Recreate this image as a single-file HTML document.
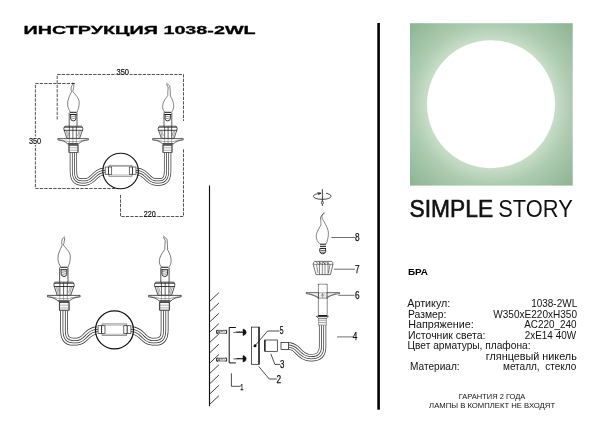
<!DOCTYPE html>
<html><head><meta charset="utf-8">
<style>
html,body{margin:0;padding:0;background:#fff;width:600px;height:433px;overflow:hidden}
svg{position:absolute;left:0;top:0;will-change:transform}
text{font-family:"Liberation Sans",sans-serif}
</style></head><body>
<svg width="600" height="433" viewBox="0 0 600 433">
<defs>
<radialGradient id="g" cx="491" cy="104.2" r="115" gradientUnits="userSpaceOnUse">
<stop offset="0.55" stop-color="#c9dec9"/>
<stop offset="0.70" stop-color="#adcbb0"/>
<stop offset="0.85" stop-color="#9cbfa1"/>
<stop offset="1" stop-color="#8db493"/>
</radialGradient>
<!-- left half of sconce, in top-drawing coords -->
<g id="half" fill="none" stroke="#1a1a1a" stroke-width="0.7">
  <!-- arm: 4 parallel lines -->
  <g id="arm">
  <path d="M73.4,152.5 V171 C73.4,179 76,182 82,182 L85,182 C90,182 92,179 95,176 C98,173 100,171.5 104,171.5" stroke="#333" stroke-width="7.3"/>
  <path d="M73.4,152 V171 C73.4,179 76,182 82,182 L85,182 C90,182 92,179 95,176 C98,173 100,171.5 105,171.5" stroke="#fff" stroke-width="5.9"/>
  <path d="M73.4,152 V171 C73.4,179 76,182 82,182 L85,182 C90,182 92,179 95,176 C98,173 100,171.5 105,171.5" stroke="#333" stroke-width="2.9"/>
  <path d="M73.4,151.5 V171 C73.4,179 76,182 82,182 L85,182 C90,182 92,179 95,176 C98,173 100,171.5 106,171.5" stroke="#fff" stroke-width="1.5"/>
  </g>
  <!-- collar -->
  <rect x="69" y="145" width="9" height="7.5" fill="#fff"/>
  <path d="M69,145 V152.5 M78,145 V152.5 M69,145.3 H78" stroke-width="0.6" stroke="#333"/>
  <path d="M69,147.8 H78 M69,150.3 H78 M69,152.5 H78" stroke-width="0.5" stroke="#666"/>
  <!-- drip pan -->
  <path d="M57.8,138.6 H88.4 M57.8,138.6 V139.9 C62,140.3 65.5,141.5 67.8,144 H78.2 C80.5,141.5 84,140.3 88.4,139.9 V138.6" fill="#fff"/>
  <path d="M59,140 C63,140.3 66,140.8 68.3,141.6 H77.7 C80,140.8 83,140.3 87.2,140" stroke-width="0.5" stroke="#555"/>
  <path d="M67.8,143.8 H78.2" stroke-width="0.9"/>
  <path d="M69.4,139 V143.5 M72.9,139 V143.5 M76.4,139 V143.5" stroke-width="0.5" stroke="#666"/>
  <!-- cup -->
  <path d="M65,126.2 H81.4 Q82.9,127 82.9,129 L79.6,138.4 H66.9 L63.8,129 Q63.8,127 65,126.2 Z" fill="#fff"/>
  <path d="M64,127.2 H82.6 M63.9,130.3 H82.8" stroke-width="0.8"/>
  <path d="M69.4,126.5 V138.2 M72.9,126.5 V138.2 M76.4,126.5 V138.2" stroke-width="0.65"/>
  <path d="M66.2,130.5 L68,137.8 M80.4,130.5 L78.6,137.8 M67.4,130.5 L69,136 M79.2,130.5 L77.6,136" stroke-width="0.5" stroke="#555"/>
  <!-- candle tube -->
  <path d="M69.2,112.5 V126.3 M77,112.5 V126.3"/>
  <!-- screw base -->
  <path d="M70.6,115 V118.8 Q70.8,120.8 73.3,120.9 Q75.8,120.8 75.9,118.8 V115" stroke-width="0.85"/>
  <path d="M71,117 L75.5,116.2 M71,119 L75.5,118.2" stroke-width="0.6" stroke="#555"/>
  <path d="M69.9,112.3 H76.6 M69.9,114.5 H76.6" stroke-width="1" stroke="#111"/>
</g>
<g id="sconce">
  <use href="#half"/>
  <use href="#half" transform="translate(241,0) scale(-1,1)"/>
  <!-- flames -->
  <path d="M74,83.5 C71.5,85 70.4,88 71.6,91.5 C69.5,96 67.5,100 67.6,104 C67.6,107 69,110 70.3,112.3 M74,84.5 C73.6,86.5 73.6,89 72.8,91.5 C75,94.5 79,98 79.2,101.5 C79.4,105 78.5,109 77,112.3" fill="none" stroke="#333" stroke-width="0.6"/>
  <path d="M166.3,82.8 L169.8,86 M166.5,84 L168.2,87.5 C167.8,90 167.8,93 167.8,95.5 C165,99 162.6,103 162.6,106.5 C162.6,109 163.5,111 165,112.3 M169.8,86 C170.3,89 170.3,93 170.4,96 C172.2,99 173.7,102 173.7,106.5 C173.7,109 172.5,111 171.5,112.3" fill="none" stroke="#333" stroke-width="0.6"/>
  <!-- back plate -->
  <circle cx="120.6" cy="171" r="17.8" fill="none" stroke="#111" stroke-width="1.15"/>
  <rect x="109" y="165.3" width="23" height="11" fill="none" stroke="#777" stroke-width="0.7"/>
  <path d="M109,166.5 H132 M109,175 H132" fill="none" stroke="#888" stroke-width="0.6"/>
  <rect x="105.2" y="167" width="6.5" height="7.3" fill="#fff" stroke="#333" stroke-width="0.7"/>
  <rect x="129.3" y="167" width="6.7" height="7.3" fill="#fff" stroke="#333" stroke-width="0.7"/>
  <path d="M108.5,167 V174.3 M132.5,167 V174.3" fill="none" stroke="#222" stroke-width="0.9"/>
</g>
</defs>

<!-- title -->
<text x="23.6" y="34.2" font-size="11.8" font-weight="bold" textLength="232" lengthAdjust="spacingAndGlyphs" fill="#000" stroke="#000" stroke-width="0.3">ИНСТРУКЦИЯ 1038-2WL</text>

<!-- ===== drawing 1 ===== -->
<use href="#sconce"/>
<g fill="none" stroke="#2a2a2a" stroke-width="0.8" stroke-dasharray="3.3,1.2">
<path d="M57.2,119.5 V74.5 H183.5 V121"/>
<path d="M183.5,149.3 V216.5 H120.5 V195"/>
<path d="M74.5,83.5 H35.4 V188.5 H115"/>
</g>
<path d="M72.5,82.5 L75,83.5 L72.5,84.5 Z" fill="#222"/>
<g font-size="9.3" fill="#111" stroke="#111" stroke-width="0.2">
<rect x="116" y="67" width="14" height="7.5" fill="#fff" stroke="none"/>
<text x="116.5" y="74.8" textLength="12.5" lengthAdjust="spacingAndGlyphs">350</text>
<rect x="28.5" y="136.5" width="13" height="8.5" fill="#fff" stroke="none"/>
<text x="28.9" y="143.8" textLength="12.3" lengthAdjust="spacingAndGlyphs">350</text>
<rect x="143" y="209" width="14" height="7" fill="#fff" stroke="none"/>
<text x="143.8" y="216.8" textLength="11.9" lengthAdjust="spacingAndGlyphs">220</text>
</g>

<!-- ===== drawing 2 ===== -->
<use href="#sconce" transform="translate(-14.2,147.5) scale(1.067)"/>


<!-- ===== drawing 3: installation ===== -->
<g fill="none" stroke="#111" stroke-width="0.7">
<path d="M209.5,185.5 V406.2" stroke-width="1.15"/>
<path d="M209.5,301.5 l9.4,-8.8 M209.5,311.8 l9.4,-8.8 M209.5,322.1 l9.4,-8.8 M209.5,332.4 l9.4,-8.8 M209.5,342.7 l9.4,-8.8 M209.5,353 l9.4,-8.8 M209.5,363.3 l9.4,-8.8 M209.5,373.6 l9.4,-8.8 M209.5,383.9 l9.4,-8.8 M209.5,394.2 l9.4,-8.8 M209.5,404.5 l9.4,-8.8" stroke-width="0.8"/>
<!-- dowels -->
<g id="dw">
<path d="M217.5,330.3 H216.6 V333.3 H218" stroke-width="0.9"/>
<path d="M225.5,330.3 H226.6 V333.3 H225.5" stroke-width="0.9"/>
<path d="M218.2,330.6 V333 M219.6,330.6 V333 M217,333.2 H226 M217,330.4 H226 M220.5,331.2 H223 M223.8,330.6 L224.2,331.8" stroke-width="0.6"/>
</g>
<use href="#dw" transform="translate(0,27.8)"/>
<!-- bracket 1 -->
<path d="M235.8,327.5 H229.2 V362.9 H235.8" stroke-width="1"/>
<!-- screws -->
<g id="sw">
<path d="M233.4,332.4 H243.2" stroke-width="0.7"/>
<path d="M236.5,331.5 Q237.3,333.5 238.1,331.5 Q238.9,333.5 239.7,331.5 Q240.5,333.5 241.3,331.5 Q242.1,333.5 242.9,331.5" stroke-width="0.8"/>
<path d="M243,329 Q246.2,330 246.2,332.3 Q246.2,334.6 243,335.6 Z" fill="#111" stroke-width="0.5"/>
</g>
<use href="#sw" transform="translate(0,26.5)"/>
<!-- plate 2 -->
<rect x="251.5" y="327.1" width="7.8" height="37.2" stroke-width="0.7"/>
<path d="M258.8,327.1 V364.3" stroke-width="1.1"/>
<circle cx="255" cy="345.7" r="1.5" fill="#111" stroke="none"/>
<path d="M255,345.7 L267.6,331 H279.5" stroke-width="0.75"/>
<!-- part 3 -->
<rect x="264.7" y="340" width="12.6" height="11.3" stroke-width="0.7"/>
<path d="M265,340 V351.3" stroke-width="1.2"/>
<path d="M270.8,353.8 L274.9,364.4 H280.3" stroke-width="0.75"/>
<path d="M258.7,366.4 L269.2,379 H276.8" stroke-width="0.75"/>
<path d="M231.4,373.3 V386.3 H240.6" stroke-width="0.75"/>
<!-- arm -->
<path d="M322.6,325 V347 C322.6,355 318,357.8 311,357.8 C304,357.8 300.5,354 297.5,350.5 C294.5,347 292,346 288,346" stroke="#333" stroke-width="7.3"/>
<path d="M322.6,324 V347 C322.6,355 318,357.8 311,357.8 C304,357.8 300.5,354 297.5,350.5 C294.5,347 292,346 287,346" stroke="#fff" stroke-width="5.9"/>
<path d="M322.6,324 V347 C322.6,355 318,357.8 311,357.8 C304,357.8 300.5,354 297.5,350.5 C294.5,347 292,346 287,346" stroke="#333" stroke-width="2.9"/>
<path d="M322.6,323 V347 C322.6,355 318,357.8 311,357.8 C304,357.8 300.5,354 297.5,350.5 C294.5,347 292,346 286,346" stroke="#fff" stroke-width="1.5"/>
<rect x="281" y="342.5" width="7.6" height="6.9" fill="#fff" stroke-width="0.7"/>
<!-- collar -->
<rect x="318.6" y="318" width="7.8" height="7.2" fill="#fff" stroke="none"/>
<path d="M318.6,318 V325.2 M326.4,318 V325.2 M318.6,320.2 H326.4 M318.6,322.6 H326.4 M318.6,325 H326.4" stroke-width="0.5" stroke="#444"/>
<path d="M316.2,316.3 H328.5 L326.4,318.3 H318.6 Z" fill="#fff" stroke-width="0.6"/>
<!-- tube 6 -->
<path d="M306,292.6 H339.7 L339.5,293.6 C333,294.5 329,296 327,298.3 H318.3 C316,296 312,294.5 306.2,293.6 Z" fill="#ececec" stroke-width="0.6"/>
<path d="M309,293.5 L318.3,297 M336,293.5 L327,297 M322.6,293 V298 M321,296 L322.6,294 L324.2,296" stroke-width="0.5" stroke="#555"/>
<rect x="318.3" y="284.2" width="8.7" height="32" fill="none" stroke-width="0.7"/>
<rect x="318.65" y="284.55" width="8" height="8" fill="#fff" stroke="none"/>
<rect x="318.65" y="298.6" width="8" height="17" fill="#fff" stroke="none"/>
<path d="M318.3,315.6 H327" stroke-width="1.1"/>
<path d="M338.3,295.3 H354.6 M337,336.9 H353" stroke-width="0.6"/>
<!-- cup 7 -->
<path d="M314.5,261.4 H331.8 Q333.2,262.5 333,264.3 L330.4,274.6 H316 L313.2,264.3 Q313.2,262.5 314.5,261.4 Z" fill="#fff" stroke-width="0.6"/>
<path d="M313.5,264.3 H332.8 M319.5,261.6 V274.5 M322.3,261.6 V274.5 M325,261.6 V274.5 M328,261.6 V274.5 M316.5,264.5 L318,273 M330,264.5 L328.5,273 M316,262 L318.5,264 M319.5,262 L321,264 M323,262 L325,264 M326.5,262 L328.5,264" stroke-width="0.5"/>
<path d="M334,269.2 H355" stroke-width="0.6"/>
<!-- flame 8 -->
<path d="M324.8,213 C322.5,214.5 320.5,216 320.5,218 C320.8,221 321,223 321,225 C318.5,229 316.2,233 316.2,236 C316.2,239 317.5,242 319.8,244 M324.2,212.5 C322,214 321.8,216 322,218 C324,222 328.3,228 328.4,233 C328.5,237 327.5,241 326,244" stroke="#333" stroke-width="0.6"/>
<path d="M320,244.2 H326 M320,246.3 H326 M320,248.4 H326" stroke-width="1"/>
<path d="M319.8,248.5 V251.5 Q320,253.5 322.7,253.8 Q325.5,253.5 325.6,251.5 V248.5" stroke-width="0.9"/>
<path d="M320.5,250.5 H325 M320.5,252.2 H325" stroke-width="0.6"/>
<path d="M331.3,237.5 H355" stroke-width="0.6"/>
<!-- rotation symbol -->
<path d="M322.4,189.2 V201.5" stroke-width="0.8"/>
<path d="M321,193.2 C316,193.5 313.4,195 313.4,196.2 C313.4,198 317,199.3 322.2,199.3 C327.5,199.3 331,198 331,196.2 C331,195 329,193.8 326,193.2" stroke-width="0.8"/>
<path d="M317.5,192.5 L321,193.3 L318,194.8" stroke-width="0.7"/>
<path d="M322.4,201 C321,202 321,204 322.4,204 C323.8,204 323.8,202 322.4,201 M322.4,204 V206" stroke-width="0.7"/>
</g>
<g font-family="Liberation Serif" font-size="10" fill="#111" stroke="#111" stroke-width="0.25">
<text x="355" y="240.8" textLength="4.6" lengthAdjust="spacingAndGlyphs">8</text>
<text x="355" y="272.8" textLength="4.6" lengthAdjust="spacingAndGlyphs">7</text>
<text x="355" y="299.1" textLength="4.6" lengthAdjust="spacingAndGlyphs">6</text>
<text x="352.8" y="340.3" textLength="4.6" lengthAdjust="spacingAndGlyphs">4</text>
<text x="279.7" y="333.8" font-size="10.6" textLength="3.8" lengthAdjust="spacingAndGlyphs">5</text>
<text x="280.1" y="367.8" textLength="4.4" lengthAdjust="spacingAndGlyphs">3</text>
<text x="276.4" y="383.1" textLength="4.6" lengthAdjust="spacingAndGlyphs">2</text>
<text x="240.2" y="389.7" font-size="9" textLength="3.2" lengthAdjust="spacingAndGlyphs">1</text>
</g>

<!-- separator -->
<rect x="377.3" y="23" width="2.6" height="386.7" fill="#000"/>
<!-- green square -->
<rect x="410" y="23.2" width="162.7" height="162.4" fill="url(#g)"/>
<circle cx="491" cy="104.2" r="64" fill="#fff"/>
<!-- brand -->
<text x="409.6" y="216.7" font-size="23.6" textLength="83.5" lengthAdjust="spacingAndGlyphs" fill="#111" stroke="#111" stroke-width="0.6">SIMPLE</text>
<text x="498.3" y="216.7" font-size="23.6" textLength="74.5" lengthAdjust="spacingAndGlyphs" fill="#111">STORY</text>
<text x="408" y="274.7" font-size="9.3" font-weight="bold" textLength="20" lengthAdjust="spacingAndGlyphs">БРА</text>
<g font-size="10.2" fill="#111">
<text x="407.3" y="307" textLength="43" lengthAdjust="spacingAndGlyphs">Артикул:</text>
<text x="408" y="317.6" textLength="38.5" lengthAdjust="spacingAndGlyphs">Размер:</text>
<text x="408.2" y="328.2" textLength="65.5" lengthAdjust="spacingAndGlyphs">Напряжение:</text>
<text x="408" y="338.8" textLength="77.5" lengthAdjust="spacingAndGlyphs">Источник света:</text>
<text x="407.5" y="349.4" textLength="123" lengthAdjust="spacingAndGlyphs">Цвет арматуры, плафона:</text>
<text x="410" y="370.2" textLength="49.6" lengthAdjust="spacingAndGlyphs">Материал:</text>
<text x="531.2" y="307" textLength="46" lengthAdjust="spacingAndGlyphs">1038-2WL</text>
<text x="493.3" y="317.6" textLength="83.7" lengthAdjust="spacingAndGlyphs">W350xE220xH350</text>
<text x="524.2" y="328.2" textLength="52.3" lengthAdjust="spacingAndGlyphs">AC220_240</text>
<text x="524.8" y="338.8" textLength="51.2" lengthAdjust="spacingAndGlyphs">2xE14 40W</text>
<text x="485.8" y="359.8" textLength="91" lengthAdjust="spacingAndGlyphs">глянцевый никель</text>
<text x="503" y="370.2" textLength="73.3" lengthAdjust="spacingAndGlyphs">металл,&#160; стекло</text>
</g>
<g font-size="7" fill="#111">
<text x="458.8" y="398.8" textLength="66.5" lengthAdjust="spacingAndGlyphs">ГАРАНТИЯ 2 ГОДА</text>
<text x="429.1" y="408.1" textLength="126" lengthAdjust="spacingAndGlyphs">ЛАМПЫ В КОМПЛЕКТ НЕ ВХОДЯТ</text>
</g>
</svg>
</body></html>
